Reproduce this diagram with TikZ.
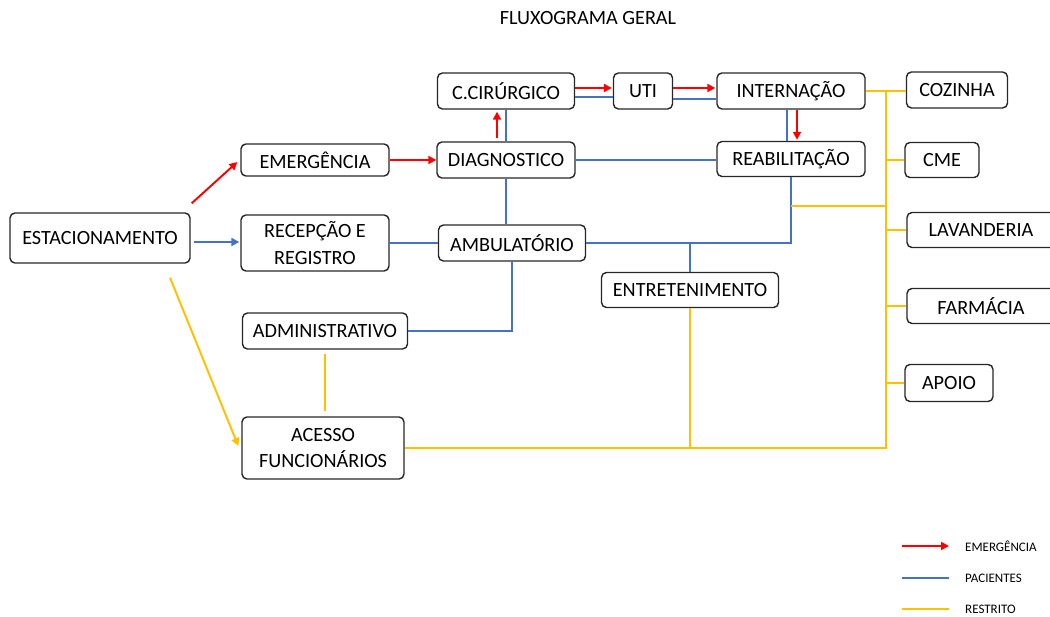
\documentclass[tikz,border=0pt]{standalone}
\usepackage{fontspec}
\setmainfont{Carlito}
\usetikzlibrary{arrows.meta,calc,positioning}
\definecolor{emred}{RGB}{255,0,0}
\definecolor{pacblue}{RGB}{68,114,196}
\definecolor{resyellow}{RGB}{255,192,0}
\definecolor{boxgray}{RGB}{38,38,38}

\begin{document}
\begin{tikzpicture}[x=0.02cm,y=-0.02cm,
    every node/.style={font=\fontsize{11.5}{15.3}\selectfont},
    box/.style={draw=boxgray,line width=0.8pt,rounded corners=2.8pt,inner sep=0pt,align=center},
    emerg/.style={draw=emred,line width=1.1pt,-{Triangle[length=4.5pt,width=4.5pt]}},
    pac/.style={draw=pacblue,line width=1.1pt},
    restr/.style={draw=resyellow,line width=1.1pt},
    tip/.style={-{Triangle[length=4.5pt,width=4.5pt]}},
    legtext/.style={anchor=west,font=\fontsize{7.4}{8}\selectfont}]
    \clip (0,0) rectangle (1050,617);
    \node (title) at (588,18) {FLUXOGRAMA GERAL};
    % caixas
    \node[box,minimum width=3.6cm,minimum height=1cm] (est) at (100,238) {ESTACIONAMENTO};
    \node[box,minimum width=2.96cm,minimum height=0.64cm] (emer) at (315,160) {EMERGÊNCIA};
    \node[box,minimum width=2.96cm,minimum height=1.12cm] (rec) at (315,243) {RECEPÇÃO E\\REGISTRO};
    \node[box,minimum width=2.74cm,minimum height=0.72cm] (cc) at (506,91) {C.CIRÚRGICO};
    \node[box,minimum width=1.18cm,minimum height=0.72cm] (uti) at (643,91) {UTI};
    \node[box,minimum width=2.96cm,minimum height=0.72cm] (int) at (791,91) {INTERNAÇÃO};
    \node[box,minimum width=2.76cm,minimum height=0.72cm] (diag) at (506,160) {DIAGNOSTICO};
    \node[box,minimum width=2.96cm,minimum height=0.70cm] (reab) at (791,159) {REABILITAÇÃO};
    \node[box,minimum width=2.94cm,minimum height=0.72cm] (amb) at (512,243) {AMBULATÓRIO};
    \node[box,minimum width=3.54cm,minimum height=0.70cm] (ent) at (690,290) {ENTRETENIMENTO};
    \node[box,minimum width=3.30cm,minimum height=0.72cm] (adm) at (325,331) {ADMINISTRATIVO};
    \node[box,minimum width=3.24cm,minimum height=1.24cm] (ace) at (323,448) {ACESSO\\FUNCIONÁRIOS};
    \node[box,minimum width=2.02cm,minimum height=0.72cm] (coz) at (957,90) {COZINHA};
    \node[box,minimum width=1.48cm,minimum height=0.70cm] (cme) at (942,160) {CME};
    \node[box,minimum width=2.96cm,minimum height=0.70cm] (lav) at (981,230) {LAVANDERIA};
    \node[box,minimum width=2.96cm,minimum height=0.70cm] (far) at (981,306) {FARMÁCIA};
    \node[box,minimum width=1.76cm,minimum height=0.74cm] (apo) at (949,383) {APOIO};
    % emergencia
    \draw[emerg] ($(est.north east)+(1,-9)$) -- ($(emer.west)+(-3,2)$);
    \draw[emerg] (emer.east) -- (diag.west);
    \draw[emerg] ($(diag.north)+(-9,-3)$) -- ($(cc.south)+(-9,2)$);
    \draw[emerg] ($(cc.east)+(0,-3)$) -- ($(uti.west)+(-1,-3)$);
    \draw[emerg] ($(uti.east)+(0,-3)$) -- ($(int.west)+(-1,-3)$);
    \draw[emerg] ($(int.south)+(6,0)$) -- ($(reab.north)+(6,-1)$);
    % pacientes
    \draw[pac,tip] ($(est.east)+(3,4)$) -- ($(rec.west)+(-1,-1)$);
    \draw[pac] (cc.south) -- (diag.north);
    \draw[pac] ($(cc.east)+(0,6)$) -- ($(uti.west)+(0,6)$);
    \draw[pac] ($(uti.east)+(0,8)$) -- ($(int.west)+(0,8)$);
    \draw[pac] ($(int.south)+(-4,0)$) -- ($(reab.north)+(-4,0)$);
    \draw[pac] (diag.east) -- (diag.east -| reab.west);
    \draw[pac] (diag.south) -- (diag.south |- amb.north);
    \draw[pac] (rec.east) -- (amb.west);
    \draw[pac] (amb.east) -| (reab.south);
    \draw[pac] (ent.north) -- (ent.north |- amb.east);
    \draw[pac] (amb.south) |- (adm.east);
    % restrito
    \coordinate (trtop) at (886,92);
    \coordinate (trbot) at (886,448);
    \coordinate (rjoin) at (791,206);
    \draw[restr,tip] ($(est.south)+(70,14)$) -- ($(ace.west)+(-3,-2)$);
    \draw[restr] ($(adm.south)+(0,4)$) -- ($(adm.south |- ace.north)+(0,-5)$);
    \draw[restr] (ace.east) -- (trbot) -- (trtop);
    \draw[restr] (ent.south) -- (ent.south |- trbot);
    \draw[restr] (rjoin) -- (rjoin -| trbot);
    \draw[restr] (int.east) -- (int.east -| coz.west);
    \foreach \n in {cme,lav,far,apo} \draw[restr] (\n.west -| trbot) -- (\n.west);
    % legenda
    \coordinate (l1) at (902,546);
    \coordinate (l2) at (902,578);
    \coordinate (l3) at (902,609);
    \node[legtext] (lg1) at (959,546) {EMERGÊNCIA};
    \node[legtext] (lg2) at (959,578) {PACIENTES};
    \node[legtext] (lg3) at (959,609) {RESTRITO};
    \draw[emerg] (l1) -- ++(47,0);
    \draw[pac] (l2) -- ++(47,0);
    \draw[restr] (l3) -- ++(47,0);
\end{tikzpicture}
\end{document}
